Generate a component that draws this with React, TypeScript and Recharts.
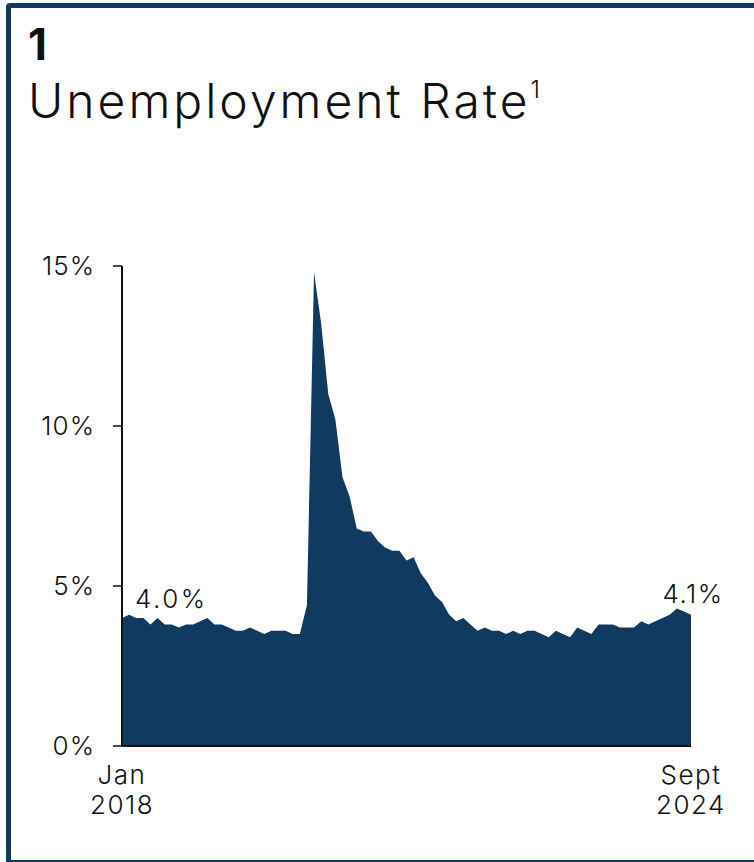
import React from "react";
import { AreaChart, Area, XAxis, YAxis, LabelList } from "recharts";

const NAVY = "#113a60";
const FONT = "Inter, 'Open Sans', sans-serif";

// monthly unemployment rate, Jan 2018 - Sept 2024
const YEARS = [2018, 2019, 2020, 2021, 2022, 2023, 2024];
const MONTHS = ["Jan", "Feb", "Mar", "Apr", "May", "June", "July", "Aug", "Sept", "Oct", "Nov", "Dec"];
const RATES = [
  4.0, 4.1, 4.0, 4.0, 3.8, 4.0, 3.8, 3.8, 3.7, 3.8, 3.8, 3.9,
  4.0, 3.8, 3.8, 3.7, 3.6, 3.6, 3.7, 3.6, 3.5, 3.6, 3.6, 3.6,
  3.5, 3.5, 4.4, 14.8, 13.2, 11.0, 10.2, 8.4, 7.8, 6.8, 6.7, 6.7,
  6.4, 6.2, 6.1, 6.1, 5.8, 5.9, 5.4, 5.1, 4.7, 4.5, 4.1, 3.9,
  4.0, 3.8, 3.6, 3.7, 3.6, 3.6, 3.5, 3.6, 3.5, 3.6, 3.6, 3.5,
  3.4, 3.6, 3.5, 3.4, 3.7, 3.6, 3.5, 3.8, 3.8, 3.8, 3.7, 3.7,
  3.7, 3.9, 3.8, 3.9, 4.0, 4.1, 4.3, 4.2, 4.1,
];
const Y_TICKS = [0, 5, 10, 15];

const data = RATES.map((rate, i) => ({
  month: `${MONTHS[i % 12]} ${YEARS[Math.floor(i / 12)]}`,
  rate,
}));
const firstMonth = data[0].month;
const lastMonth = data[data.length - 1].month;

const textStyle = { letterSpacing: 1.5 };

function MonthTick({ x, y, payload }: any) {
  const [m, yr] = String(payload.value).split(" ");
  return (
    <text x={x} y={y} textAnchor="middle" fill="#111" fontSize={26} fontFamily={FONT} fontWeight={300} style={textStyle}>
      <tspan x={x} dy={30}>{m}</tspan>
      <tspan x={x} dy={30}>{yr}</tspan>
    </text>
  );
}

function EndLabel(props: any) {
  const { x, y, index, value } = props;
  if (index === 0) {
    return (
      <text x={x + 13} y={y - 10} fill="#111" fontSize={26} fontFamily={FONT} fontWeight={300} style={{ letterSpacing: 2.5 }}>
        {value.toFixed(1)}%
      </text>
    );
  }
  if (index === RATES.length - 1) {
    return (
      <text x={x + 2} y={y - 12} textAnchor="middle" fill="#111" fontSize={26} fontFamily={FONT} fontWeight={300} style={{ letterSpacing: 1.5 }}>
        {value.toFixed(1)}%
      </text>
    );
  }
  return null;
}

export default function App() {
  return (
    <div style={{ position: "absolute", left: 0, top: 0, width: 754, height: 862, overflow: "hidden", background: "#fff", fontFamily: FONT, color: "#111" }}>
      <div style={{ position: "absolute", left: 6, top: 3, width: 800, height: 852, border: `5px solid ${NAVY}`, borderRadius: "4px 0 0 0" }} />
      <div style={{ position: "absolute", left: 28, top: 18, fontSize: 44, fontWeight: 700, lineHeight: 1.2 }}>1</div>
      <div style={{ position: "absolute", left: 28, top: 72, fontSize: 48, fontWeight: 300, lineHeight: 1.2, whiteSpace: "nowrap", letterSpacing: 3 }}>
        Unemployment Rate<sup style={{ fontSize: 24, verticalAlign: "top", position: "relative", top: 4, letterSpacing: 0 }}>1</sup>
      </div>
      <AreaChart
        width={754}
        height={862}
        data={data}
        margin={{ top: 266, right: 63, bottom: 36, left: 62 }}
        style={{ position: "absolute", left: 0, top: 0 }}
      >
        <XAxis
          dataKey="month"
          ticks={[firstMonth, lastMonth]}
          interval={0}
          height={80}
          tickLine={false}
          axisLine={{ stroke: "#111", strokeWidth: 2 }}
          tick={<MonthTick />}
        />
        <YAxis
          width={60}
          domain={[0, 15]}
          ticks={Y_TICKS}
          tickFormatter={(v) => `${v}%`}
          tickSize={9}
          tickMargin={18}
          axisLine={{ stroke: "#111", strokeWidth: 2 }}
          tickLine={{ stroke: "#111", strokeWidth: 1.5 }}
          tick={{ fill: "#111", fontSize: 26, fontFamily: FONT, fontWeight: 300, style: { letterSpacing: 1 } }}
        />
        <Area
          type="linear"
          dataKey="rate"
          stroke="none"
          fill={NAVY}
          fillOpacity={1}
          isAnimationActive={false}
        >
          <LabelList dataKey="rate" content={<EndLabel />} />
        </Area>
      </AreaChart>
    </div>
  );
}
